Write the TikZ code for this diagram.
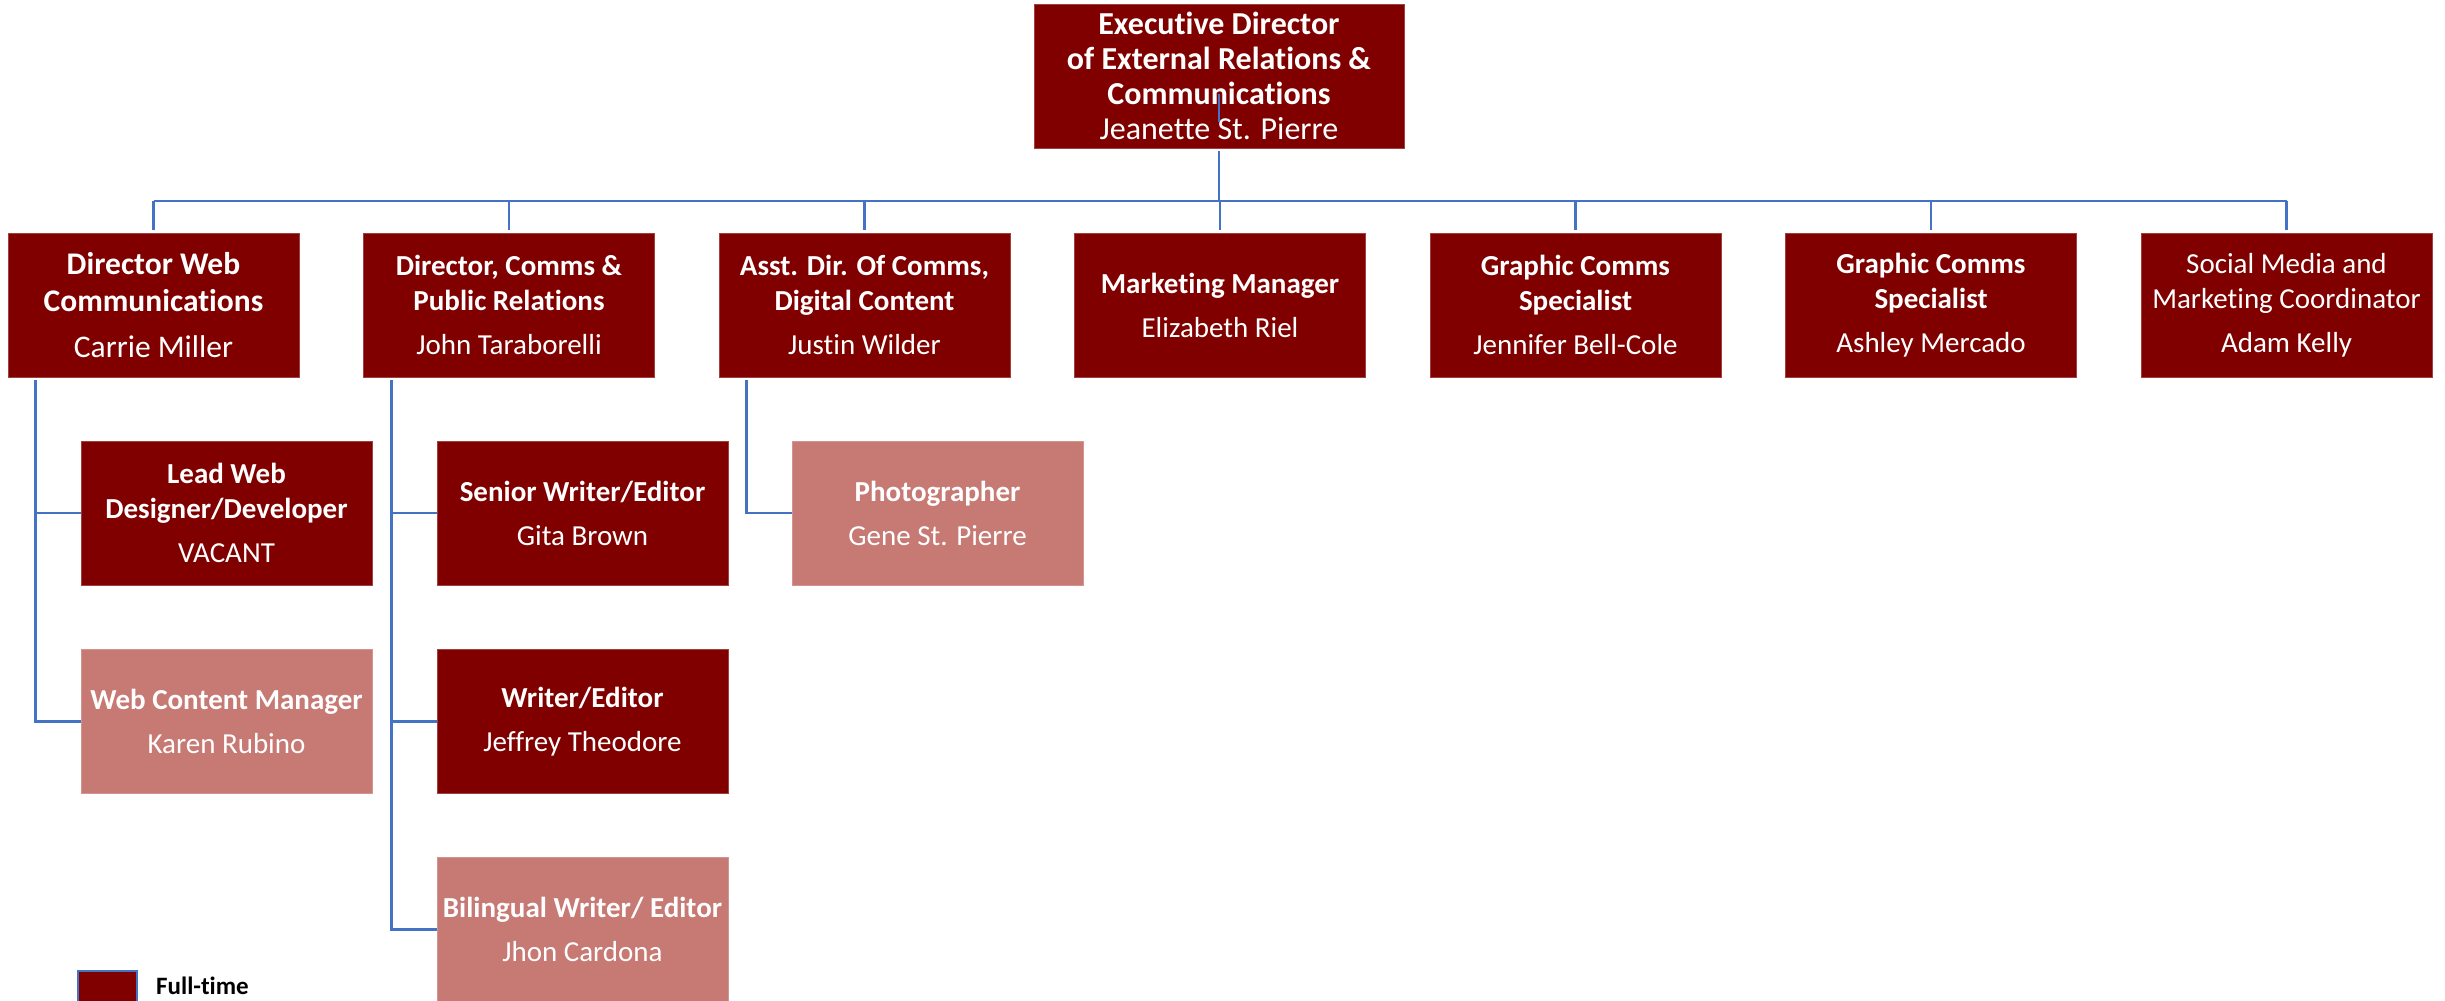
\documentclass[tikz,border=0pt]{standalone}
\usepackage{fontspec}
\setmainfont{Carlito}[Ligatures=NoCommon]
\definecolor{dred}{RGB}{128,0,0}
\definecolor{lred}{RGB}{199,121,116}
\definecolor{lineblue}{RGB}{68,114,196}
\begin{document}
\begin{tikzpicture}[x=1pt,y=-1pt,
  box/.style={rectangle, fill=dred, draw=dred!75!white, line width=0.8pt,
    minimum width=291pt, minimum height=144pt, inner sep=0pt, text=white,
    align=center, font=\fontsize{29}{35}\selectfont},
  lbox/.style={box, fill=lred, draw=lred!80!white},
  conn/.style={draw=lineblue, line width=2.8pt},
]
\useasboundingbox (0,0) rectangle (2445,1001);
% top
\node[box, minimum width=370pt, font=\fontsize{32}{35}\selectfont] (top) at (1219,76)
  {\textbf{Executive Director}\\\textbf{of External Relations \&}\\\textbf{Communications}\\Jeanette St. Pierre};
% level 2
\node[box, font=\fontsize{31.5}{37}\selectfont] (dw) at (153.5,305) {\textbf{Director Web}\\\textbf{Communications}\\[9pt]Carrie Miller};
\node[box] (dc) at (509,305) {\textbf{Director, Comms \&}\\\textbf{Public Relations}\\[9pt]John Taraborelli};
\node[box] (ad) at (864.5,305) {\textbf{Asst. Dir. Of Comms,}\\\textbf{Digital Content}\\[9pt]Justin Wilder};
\node[box] (mm) at (1220,305) {\textbf{Marketing Manager}\\[9pt]Elizabeth Riel};
\node[box] (g1) at (1575.5,305) {\textbf{Graphic Comms}\\\textbf{Specialist}\\[9pt]Jennifer Bell-Cole};
\node[box] (g2) at (1931,305) {\textbf{Graphic Comms}\\\textbf{Specialist}\\[9pt]Ashley Mercado};
\node[box] (sm) at (2286.5,305) {Social Media and\\Marketing Coordinator\\[9pt]Adam Kelly};
% level 3
\node[box] (lw) at (226.5,513) {\textbf{Lead Web}\\\textbf{Designer/Developer}\\[9pt]VACANT};
\node[lbox] (wc) at (226.5,721.5) {\textbf{Web Content Manager}\\[9pt]Karen Rubino};
\node[box] (sw) at (582.5,513) {\textbf{Senior Writer/Editor}\\[9pt]Gita Brown};
\node[box] (we) at (582.5,721.5) {\textbf{Writer/Editor}\\[9pt]Jeffrey Theodore};
\node[lbox] (bw) at (582.5,929.5) {\textbf{Bilingual Writer/ Editor}\\[9pt]Jhon Cardona};
\node[lbox] (ph) at (937.5,513) {\textbf{Photographer}\\[9pt]Gene St. Pierre};
% connectors
\coordinate (bar) at (1219,201);
\draw[conn] ([yshift=54pt]top.south) -- ([yshift=26pt]top.south);
\draw[conn] ([yshift=-3pt]top.south) -- (bar);
\draw[conn] (dw.north |- bar) -- (sm.north |- bar);
\foreach \n in {dw,dc,ad,mm,g1,g2,sm}
  \draw[conn] (\n.north |- bar) -- ([yshift=3pt]\n.north);
\draw[conn] ([xshift=28pt,yshift=-3pt]dw.south west) |- (lw.west);
\draw[conn] ([xshift=28pt,yshift=-3pt]dw.south west) |- (wc.west);
\draw[conn] ([xshift=28pt,yshift=-3pt]dc.south west) |- (sw.west);
\draw[conn] ([xshift=28pt,yshift=-3pt]dc.south west) |- (we.west);
\draw[conn] ([xshift=28pt,yshift=-3pt]dc.south west) |- (bw.west);
\draw[conn] ([xshift=28pt,yshift=-3pt]ad.south west) |- (ph.west);
% legend
\node[rectangle, fill=dred, draw=lineblue, line width=2pt, minimum size=59pt, inner sep=0pt, anchor=north west] (leg) at (77,970) {};
\node[anchor=west, inner sep=0pt, font=\fontsize{25}{30}\selectfont\bfseries] (legt) at (156,986) {Full-time};
\end{tikzpicture}
\end{document}
